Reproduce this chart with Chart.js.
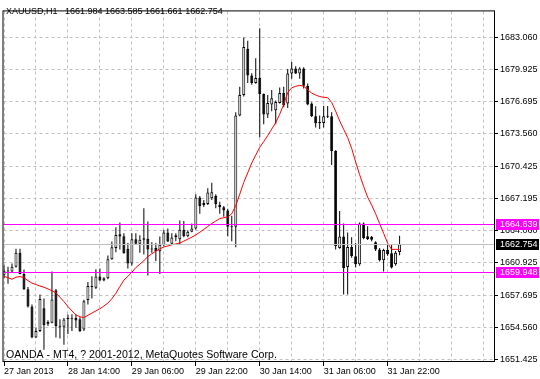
<!DOCTYPE html>
<html><head><meta charset="utf-8">
<script src="https://cdn.jsdelivr.net/npm/chart.js@4/dist/chart.umd.min.js"></script>
<style>html,body{margin:0;padding:0;background:#fff;overflow:hidden}#wrap{width:540px;height:379px}</style>
</head><body><div id="wrap"><canvas id="c" width="540" height="379"></canvas></div>
<script>
const symbol = 'XAUUSD,H1';
const watermark = 'OANDA - MT4, ? 2001-2012, MetaQuotes Software Corp.';
const opens = [1659.70,1660.13,1660.08,1660.53,1661.90,1659.82,1658.33,1656.63,1653.59,1654.23,
1656.47,1654.88,1655.03,1658.23,1654.66,1654.64,1655.44,1655.39,1655.50,1655.39,
1654.38,1657.27,1658.64,1658.48,1659.57,1659.19,1659.41,1661.26,1662.38,1663.73,
1663.53,1662.29,1660.85,1663.24,1662.79,1663.34,1663.29,1662.29,1662.38,1662.06,
1662.67,1663.89,1662.79,1663.63,1663.24,1664.16,1663.53,1663.98,1664.30,1667.34,
1666.60,1666.70,1667.27,1667.49,1666.60,1666.38,1666.05,1664.49,1664.46,1675.39,
1677.40,1681.94,1679.32,1678.58,1679.06,1677.48,1675.49,1676.45,1675.90,1676.60,
1677.60,1676.57,1679.51,1679.99,1679.51,1679.99,1678.31,1676.57,1675.30,1674.75,
1674.65,1675.30,1675.32,1671.90,1662.38,1663.50,1660.51,1662.48,1661.57,1660.78,
1664.78,1663.53,1663.48,1662.93,1662.22,1661.18,1662.19,1661.85,1660.78,1661.984];
const highs = [1660.66,1660.53,1660.85,1662.29,1662.29,1660.27,1658.55,1656.82,1654.55,1657.81,
1657.43,1655.29,1660.08,1658.36,1655.39,1655.50,1655.85,1655.88,1655.82,1655.57,
1657.30,1659.03,1659.60,1660.30,1660.37,1659.51,1661.65,1663.02,1664.40,1664.87,
1663.82,1662.86,1663.82,1663.82,1663.63,1666.27,1664.97,1662.93,1662.86,1663.50,
1664.14,1664.30,1663.82,1663.82,1665.07,1665.02,1664.11,1664.78,1667.66,1667.49,
1667.08,1668.23,1668.77,1667.66,1666.91,1666.50,1666.22,1665.54,1675.71,1678.20,
1683.04,1682.73,1679.54,1681.01,1683.95,1677.53,1677.40,1677.88,1676.86,1678.13,
1678.20,1679.95,1680.64,1680.21,1680.12,1680.12,1678.52,1676.67,1676.28,1675.39,
1676.35,1676.31,1675.71,1671.97,1666.00,1664.78,1663.89,1663.44,1662.86,1664.88,
1664.88,1664.52,1663.56,1663.05,1662.38,1662.29,1662.77,1662.70,1662.09,1663.585];
const lows = [1659.41,1658.86,1659.99,1660.46,1659.79,1658.26,1656.53,1653.52,1653.56,1654.14,
1652.38,1654.71,1655.00,1653.59,1653.49,1652.89,1653.93,1654.23,1654.55,1654.14,
1654.23,1656.82,1657.43,1658.36,1659.12,1659.12,1659.31,1661.23,1661.97,1662.22,
1661.81,1660.37,1660.66,1662.67,1661.90,1661.74,1659.67,1661.90,1661.11,1659.82,
1662.57,1662.96,1662.67,1663.05,1662.77,1663.44,1663.44,1663.91,1664.20,1665.74,
1666.41,1666.60,1667.08,1666.28,1665.74,1665.45,1663.53,1663.05,1662.45,1675.32,
1677.24,1678.58,1678.39,1678.49,1673.24,1674.53,1675.13,1675.80,1674.53,1676.57,
1676.19,1676.12,1678.99,1679.45,1678.99,1678.04,1676.38,1675.23,1674.20,1674.05,
1674.20,1675.13,1670.53,1662.22,1662.29,1657.81,1657.81,1661.42,1660.46,1660.64,
1663.24,1663.15,1663.05,1662.09,1661.04,1660.08,1661.62,1660.37,1660.63,1661.661];
const closes = [1660.15,1660.10,1660.53,1661.90,1659.82,1658.33,1656.63,1653.59,1654.23,1657.37,
1654.81,1655.10,1657.33,1654.71,1654.74,1655.35,1655.46,1655.45,1655.25,1654.23,
1657.16,1658.64,1658.55,1659.57,1659.19,1659.41,1661.26,1662.45,1663.66,1663.51,
1661.85,1660.85,1663.24,1662.79,1663.19,1663.18,1662.22,1662.26,1662.06,1662.70,
1663.89,1663.01,1663.41,1663.44,1664.16,1663.53,1663.98,1664.30,1667.34,1666.51,
1666.79,1667.82,1667.85,1666.67,1666.38,1666.05,1664.46,1664.44,1675.39,1677.40,
1682.10,1679.32,1678.58,1679.06,1677.48,1675.49,1676.60,1677.08,1676.70,1677.60,
1676.38,1679.51,1679.99,1679.51,1679.99,1678.31,1676.45,1675.30,1674.63,1674.63,
1675.32,1675.32,1671.90,1662.57,1663.50,1660.42,1662.48,1661.57,1660.78,1664.78,
1663.34,1663.27,1663.19,1662.22,1661.18,1662.19,1661.76,1660.46,1661.90,1662.754];
const maValues = [1659.60,1659.46,1659.31,1659.51,1659.57,1659.46,1659.17,1658.93,1658.79,1658.64,
1658.52,1658.36,1658.18,1657.97,1657.54,1657.11,1656.63,1656.20,1655.82,1655.62,
1655.55,1655.77,1655.99,1656.20,1656.41,1656.68,1656.97,1657.40,1657.93,1658.60,
1659.22,1659.60,1659.99,1660.46,1660.78,1661.14,1661.52,1661.81,1662.07,1662.29,
1662.48,1662.57,1662.70,1662.77,1662.86,1663.05,1663.24,1663.44,1663.66,1663.92,
1664.20,1664.49,1664.78,1665.02,1665.26,1665.35,1665.42,1665.74,1666.53,1667.66,
1668.81,1669.76,1670.72,1671.49,1672.26,1672.83,1673.41,1674.05,1674.68,1675.51,
1676.48,1677.63,1678.10,1678.25,1678.34,1678.25,1677.91,1677.58,1677.39,1677.24,
1677.17,1677.13,1676.67,1675.80,1674.85,1674.03,1673.21,1672.16,1670.82,1669.57,
1668.42,1667.37,1666.60,1665.74,1664.78,1663.82,1662.86,1662.24,1662.24,1662.24];
const timeLabels = ['27 Jan 2013','28 Jan 14:00','29 Jan 06:00','29 Jan 22:00','30 Jan 14:00','31 Jan 06:00','31 Jan 22:00'];
const timeLabelBars = [0,16,32,48,64,80,96];
const priceTickLabels = ['1651.425','1654.560','1657.695','1660.925','1664.060','1667.195','1670.425','1673.560','1676.695','1679.925','1683.060'];
const levelLines = [1664.639, 1659.948];
const bidPrice = 1662.754;

const FONT = '"Liberation Sans", Arial, sans-serif';
const idx = opens.map((_, i) => i);
const last = opens.length - 1;
const wickData = idx.map(i => ({x: i, y: [lows[i], highs[i]]}));
const bodyData = idx.map(i => {
  let a = opens[i], b = closes[i];
  if (Math.abs(a - b) < 0.1) { const m = (a + b) / 2; a = m - 0.05; b = m + 0.05; }
  return {x: i, y: [a, b]};
});
const bodyFill = idx.map(i => closes[i] >= opens[i] ? '#ffffff' : '#000000');
const maData = maValues.map((v, i) => ({x: i, y: v}));

const firstTick = parseFloat(priceTickLabels[0]);
const tickStep = (parseFloat(priceTickLabels[priceTickLabels.length - 1]) - firstTick) / (priceTickLabels.length - 1);

const overlay = {
  id: 'overlay',
  beforeDraw(chart) {
    const c = chart.ctx; c.save(); c.fillStyle = '#fff'; c.fillRect(0, 0, chart.width, chart.height); c.restore();
  },
  afterDatasetsDraw(chart) {
    const c = chart.ctx, a = chart.chartArea, y = chart.scales.y;
    c.save();
    c.lineWidth = 1;
    const hline = (v, col) => {
      const py = Math.round(y.getPixelForValue(v) - 0.5) + 0.5;
      c.strokeStyle = col; c.beginPath(); c.moveTo(a.left, py); c.lineTo(a.right, py); c.stroke();
    };
    hline(bidPrice, '#c0c0c0');
    levelLines.forEach(v => hline(v, '#ff00ff'));
    c.restore();
  },
  afterDraw(chart) {
    const c = chart.ctx, a = chart.chartArea, x = chart.scales.x, y = chart.scales.y;
    c.save();
    c.strokeStyle = '#000'; c.lineWidth = 1;
    c.strokeRect(a.left - 0.5, a.top - 0.5, a.right - a.left + 1, a.bottom - a.top);
    c.beginPath();
    y.ticks.forEach(t => {
      const py = Math.round(y.getPixelForValue(t.value) - 0.5) + 0.5;
      c.moveTo(a.right, py); c.lineTo(a.right + 4, py);
    });
    timeLabelBars.forEach(b => {
      const px = Math.round(x.getPixelForValue(b) - 0.5) + 0.5;
      c.moveTo(px, a.bottom); c.lineTo(px, a.bottom + 4);
    });
    c.stroke();
    c.font = '9px ' + FONT; c.textBaseline = 'middle'; c.textAlign = 'left';
    const box = (v, bg) => {
      const py = Math.round(y.getPixelForValue(v) - 0.5) + 0.5;
      c.fillStyle = bg; c.fillRect(a.right + 2, py - 5.5, 43, 11);
      c.fillStyle = '#fff'; c.fillText(v.toFixed(3), a.right + 6, py + 0.5);
    };
    box(levelLines[0], '#ff00ff');
    box(bidPrice, '#000000');
    box(levelLines[1], '#ff00ff');
    c.fillStyle = '#000'; c.textBaseline = 'alphabetic';
    c.font = '9px ' + FONT;
    const title = symbol + '   ' + [opens[last], highs[last], lows[last], closes[last]].map(v => v.toFixed(3)).join(' ');
    c.fillText(title, 6, 14);
    c.font = '10.6px ' + FONT;
    c.fillText(watermark, 6, 358);
    c.restore();
  }
};

new Chart(document.getElementById('c'), {
  type: 'bar',
  data: {
    datasets: [
      {type: 'line', data: maData, borderColor: '#ff0000', borderWidth: 1, pointRadius: 0, tension: 0, order: 0, fill: false},
      {data: bodyData, backgroundColor: bodyFill, borderColor: '#000000', borderWidth: 1, borderSkipped: false, barThickness: 3, grouped: false, inflateAmount: 0, order: 1},
      {data: wickData, backgroundColor: '#000000', borderWidth: 0, barThickness: 1, grouped: false, inflateAmount: 0, order: 2}
    ]
  },
  options: {
    responsive: false,
    animation: false,
    events: [],
    layout: {padding: {left: 3, top: 3, right: 0, bottom: 0}},
    plugins: {legend: {display: false}, tooltip: {enabled: false}, title: {display: false}},
    scales: {
      x: {
        type: 'linear', min: -0.125, max: 122.625, offset: false,
        grid: {offset: false, color: '#c0c0c0', lineWidth: 1, drawTicks: false},
        border: {display: false, dash: [3, 3]},
        ticks: {autoSkip: false, maxRotation: 0, minRotation: 0, align: 'start', padding: 4, color: '#000',
          font: {family: FONT, size: 9},
          callback: (v) => { const k = timeLabelBars.indexOf(v); return k >= 0 ? timeLabels[k] : ''; }},
        afterBuildTicks: s => { const t = []; for (let i = 0; i <= 120; i += 8) t.push({value: i}); s.ticks = t; },
        afterFit: s => { s.height = 17; }
      },
      y: {
        type: 'linear', position: 'right', min: 1651.185, max: 1685.60,
        grid: {color: '#c0c0c0', lineWidth: 1, drawTicks: false},
        border: {display: false, dash: [3, 3]},
        ticks: {padding: 6, color: '#000', font: {family: FONT, size: 9},
          callback: (v, i) => priceTickLabels[i]},
        afterBuildTicks: s => { s.ticks = priceTickLabels.map((_, k) => ({value: firstTick + k * tickStep})); },
        afterFit: s => { s.width = 46; }
      }
    }
  },
  plugins: [overlay]
});
</script>
</body></html>
